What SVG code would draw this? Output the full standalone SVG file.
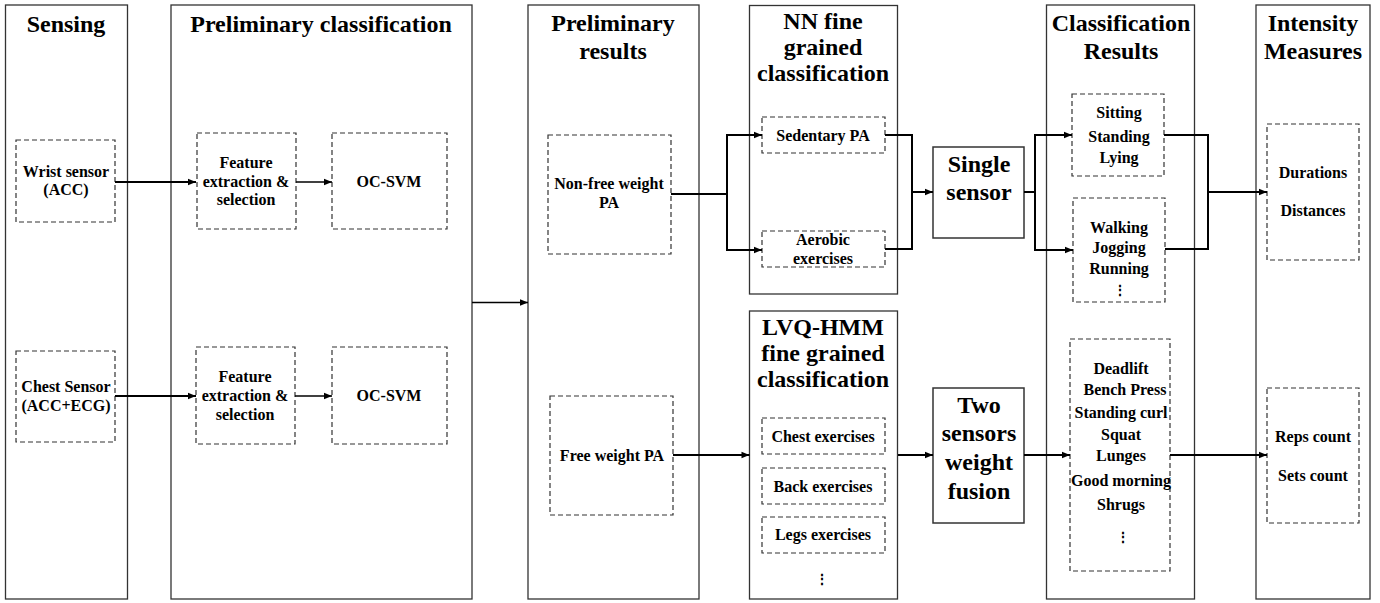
<svg xmlns="http://www.w3.org/2000/svg" width="1380" height="603" viewBox="0 0 1380 603">
<defs>
<marker id="ah" viewBox="0 0 10 10" refX="10" refY="5" markerWidth="9" markerHeight="8" markerUnits="userSpaceOnUse" orient="auto"><path d="M0,1 L10,5 L0,9 z" fill="#000"/></marker>
<style>
.panel{fill:#fff;stroke:#333;stroke-width:1.3}
.solid{fill:#fff;stroke:#333;stroke-width:1.5}
.dash{fill:#fff;stroke:#333;stroke-width:1.2;stroke-dasharray:5,3}
.t{font-family:"Liberation Serif","Times New Roman",serif;font-weight:bold;fill:#000;text-anchor:middle}
.big{font-size:24px}
.sm{font-size:16px}
.c{fill:none;stroke:#000;stroke-width:2}
.c1{fill:none;stroke:#000;stroke-width:1.5}
.dots{font-family:"DejaVu Serif","Liberation Serif",serif;font-weight:bold;font-size:14px;fill:#000;text-anchor:middle}
</style>
</defs>
<rect width="1380" height="603" fill="#fff"/>

<g id="sensing">
<rect class="panel" x="5.5" y="5" width="122" height="594"/>
<text class="t big" x="66" y="32">Sensing</text>
</g>
<g id="prelim-class">
<rect class="panel" x="171" y="5" width="301" height="594"/>
<text class="t big" x="321" y="32">Preliminary classification</text>
</g>
<g id="prelim-results">
<rect class="panel" x="528" y="5" width="171" height="594"/>
<text class="t big" x="613" y="31">Preliminary</text>
<text class="t big" x="613" y="59">results</text>
</g>
<g id="nn">
<rect class="panel" x="749.5" y="5.5" width="148" height="288.5"/>
<text class="t big" x="823" y="29">NN fine</text>
<text class="t big" x="823" y="55">grained</text>
<text class="t big" x="823" y="81">classification</text>
</g>
<g id="lvq">
<rect class="panel" x="749.5" y="311" width="148" height="288"/>
<text class="t big" x="823" y="335">LVQ-HMM</text>
<text class="t big" x="823" y="361">fine grained</text>
<text class="t big" x="823" y="387">classification</text>
</g>
<g id="class-results">
<rect class="panel" x="1046.5" y="5" width="148" height="594"/>
<text class="t big" x="1121" y="31">Classification</text>
<text class="t big" x="1121" y="59">Results</text>
</g>
<g id="intensity">
<rect class="panel" x="1256" y="5" width="114" height="594"/>
<text class="t big" x="1313" y="31">Intensity</text>
<text class="t big" x="1313" y="59">Measures</text>
</g>

<g id="single-sensor">
<rect class="solid" x="933" y="147" width="91" height="91"/>
<text class="t big" x="979" y="172">Single</text>
<text class="t big" x="979" y="200">sensor</text>
</g>
<g id="two-sensors">
<rect class="solid" x="933" y="388" width="91" height="135"/>
<text class="t big" x="979" y="413">Two</text>
<text class="t big" x="979" y="441">sensors</text>
<text class="t big" x="979" y="470">weight</text>
<text class="t big" x="979" y="499">fusion</text>
</g>

<g id="wrist">
<rect class="dash" x="16" y="140" width="99" height="82"/>
<text class="t sm" x="66" y="177">Wrist sensor</text>
<text class="t sm" x="66" y="194.5">(ACC)</text>
</g>
<g id="feat1">
<rect class="dash" x="197" y="133" width="99" height="96"/>
<text class="t sm" x="246" y="168">Feature</text>
<text class="t sm" x="246" y="186.5">extraction &amp;</text>
<text class="t sm" x="246" y="205">selection</text>
</g>
<g id="ocsvm1">
<rect class="dash" x="332" y="133" width="115" height="96"/>
<text class="t sm" x="389" y="186.5">OC-SVM</text>
</g>
<g id="chest">
<rect class="dash" x="16" y="351" width="99" height="91"/>
<text class="t sm" x="66" y="392">Chest Sensor</text>
<text class="t sm" x="66" y="411">(ACC+ECG)</text>
</g>
<g id="feat2">
<rect class="dash" x="196" y="347" width="99" height="97"/>
<text class="t sm" x="245" y="381.5">Feature</text>
<text class="t sm" x="245" y="400.5">extraction &amp;</text>
<text class="t sm" x="245" y="419.5">selection</text>
</g>
<g id="ocsvm2">
<rect class="dash" x="332" y="347" width="115" height="97"/>
<text class="t sm" x="389" y="401">OC-SVM</text>
</g>
<g id="nonfree">
<rect class="dash" x="548" y="135" width="123" height="119"/>
<text class="t sm" x="609" y="189">Non-free weight</text>
<text class="t sm" x="609" y="208">PA</text>
</g>
<g id="free">
<rect class="dash" x="550" y="396" width="123" height="119"/>
<text class="t sm" x="612" y="461">Free weight PA</text>
</g>
<g id="sedentary">
<rect class="dash" x="762" y="117" width="123" height="36"/>
<text class="t sm" x="823" y="140.5">Sedentary PA</text>
</g>
<g id="aerobic">
<rect class="dash" x="762" y="231" width="123" height="36"/>
<text class="t sm" x="823" y="245">Aerobic</text>
<text class="t sm" x="823" y="264">exercises</text>
</g>
<g id="chest-ex">
<rect class="dash" x="762" y="418" width="123" height="36"/>
<text class="t sm" x="823" y="442">Chest exercises</text>
</g>
<g id="back-ex">
<rect class="dash" x="762" y="468" width="123" height="36"/>
<text class="t sm" x="823" y="491.5">Back exercises</text>
</g>
<g id="legs-ex">
<rect class="dash" x="762" y="517" width="123" height="36"/>
<text class="t sm" x="823" y="540">Legs exercises</text>
</g>
<text class="dots" x="822" y="584">⋮</text>
<g id="sitting">
<rect class="dash" x="1072" y="94" width="92" height="82"/>
<text class="t sm" x="1119" y="117.5">Sitting</text>
<text class="t sm" x="1119" y="141.5">Standing</text>
<text class="t sm" x="1119" y="162.5">Lying</text>
</g>
<g id="walking">
<rect class="dash" x="1073" y="198" width="92" height="104"/>
<text class="t sm" x="1119" y="233">Walking</text>
<text class="t sm" x="1119" y="253">Jogging</text>
<text class="t sm" x="1119" y="274">Running</text>
<text class="dots" x="1120" y="295">⋮</text>
</g>
<g id="deadlift">
<rect class="dash" x="1070" y="339" width="100" height="232"/>
<text class="t sm" x="1121" y="374">Deadlift</text>
<text class="t sm" x="1125" y="395">Bench Press</text>
<text class="t sm" x="1121" y="418">Standing curl</text>
<text class="t sm" x="1121" y="440">Squat</text>
<text class="t sm" x="1121" y="461">Lunges</text>
<text class="t sm" x="1121" y="485.5">Good morning</text>
<text class="t sm" x="1121" y="510">Shrugs</text>
<text class="dots" x="1123" y="542">⋮</text>
</g>
<g id="durations">
<rect class="dash" x="1267" y="124" width="92" height="136"/>
<text class="t sm" x="1313" y="178">Durations</text>
<text class="t sm" x="1313" y="216">Distances</text>
</g>
<g id="reps">
<rect class="dash" x="1267" y="388" width="92" height="135"/>
<text class="t sm" x="1313" y="442">Reps count</text>
<text class="t sm" x="1313" y="480.5">Sets count</text>
</g>

<g id="connectors">
<path class="c" d="M115,182 H196" marker-end="url(#ah)"/>
<path class="c1" d="M296,182 H332" marker-end="url(#ah)"/>
<path class="c" d="M115,396 H196" marker-end="url(#ah)"/>
<path class="c1" d="M295,396 H332" marker-end="url(#ah)"/>
<path class="c1" d="M472,302.5 H528" marker-end="url(#ah)"/>
<path class="c" d="M671,194 H727 V135 H762" marker-end="url(#ah)"/>
<path class="c" d="M727,194 V250 H762" marker-end="url(#ah)"/>
<path class="c" d="M885,135 H912 V249 H885"/>
<path class="c" d="M912,192 H933" marker-end="url(#ah)"/>
<path class="c" d="M1024,192 H1035 V135 H1072" marker-end="url(#ah)"/>
<path class="c" d="M1035,192 V250 H1073" marker-end="url(#ah)"/>
<path class="c" d="M1164,135 H1208 V249 H1165"/>
<path class="c" d="M1208,192 H1267" marker-end="url(#ah)"/>
<path class="c" d="M673,455 H749.5" marker-end="url(#ah)"/>
<path class="c" d="M898,455 H933" marker-end="url(#ah)"/>
<path class="c" d="M1024,455 H1070" marker-end="url(#ah)"/>
<path class="c" d="M1170,455 H1267" marker-end="url(#ah)"/>
</g>
</svg>
